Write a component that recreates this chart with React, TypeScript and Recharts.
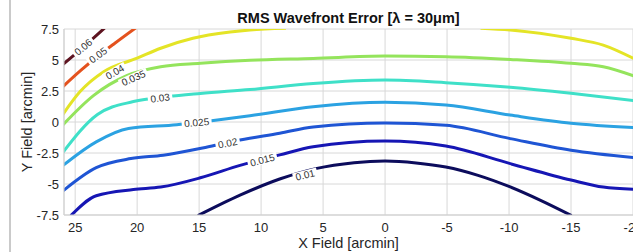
import React from 'react';
import { ComposedChart, Line, Scatter, XAxis, YAxis, CartesianGrid } from 'recharts';

// Contour levels (RMS wavefront error) and their colours
const levels = ['0.01', '0.015', '0.02', '0.025', '0.03', '0.035', '0.04', '0.04', '0.05', '0.06'];
const colors = ['#0c0c5c', '#1616b4', '#1f55d4', '#2ba2e2', '#3fe0c8', '#94e45c', '#e4e426', '#e4e426', '#e4521e', '#5e1420'];

// Contour paths: [X field, Y field] in arcmin
const c001 = [[15.1, -7.55], [11.7, -5.9], [8.5, -4.6], [5.6, -3.76], [2.5, -3.28], [0, -3.15], [-2.5, -3.3], [-4.9, -3.63], [-7.5, -4.3], [-10.1, -5.24], [-12.5, -6.3], [-15.05, -7.55]];
const c0015 = [[25.35, -7.55], [23.3, -5.95], [20.3, -5.45], [18.1, -5.25], [14.9, -4.5], [11.7, -3.5], [8.5, -2.65], [5.8, -2.0], [0, -1.53], [-4.9, -1.94], [-10.1, -3.36], [-15, -4.68], [-17.6, -5.25], [-20.1, -5.42]];
const c002 = [[26.1, -5.65], [23.3, -3.68], [20.5, -2.95], [17.9, -2.68], [14.5, -2.05], [11.7, -1.45], [8.5, -0.9], [5.8, -0.4], [0, -0.08], [-4.9, -0.27], [-10.1, -1.34], [-15, -2.28], [-20.1, -2.88]];
const c0025 = [[26.1, -3.6], [23.3, -1.6], [20.7, -0.52], [16.8, -0.22], [14, 0.1], [10.9, 0.5], [5.8, 1.23], [0, 1.59], [-4.9, 1.37], [-10.1, 0.56], [-15, -0.1], [-20.1, -0.45]];
const c003 = [[26.1, -2.6], [23.2, 0.6], [20.3, 1.65], [17.5, 2.05], [14.9, 2.3], [10.9, 2.62], [5.8, 3.1], [0, 3.38], [-4.9, 3.17], [-10.1, 2.8], [-15, 2.31], [-20.1, 1.72]];
const c0035 = [[26.1, -0.35], [23.5, 2.15], [20.8, 3.75], [18.1, 4.45], [14.9, 4.73], [10.9, 4.98], [5.8, 5.13], [0, 5.32], [-4.9, 5.27], [-10.1, 5.05], [-15, 4.73], [-17.6, 4.45], [-20.1, 3.7]];
const c004a = [[26.1, 0.45], [24.6, 2.45], [22.7, 4.05], [20.0, 5.15], [18.1, 5.95], [15.5, 6.75], [12.5, 7.25], [10.9, 7.42], [8.0, 7.56]];
const c004b = [[-7.7, 7.56], [-10.1, 7.42], [-15, 6.75], [-17.6, 6.2], [-20.1, 5.1]];
const c005 = [[26.1, 2.75], [24.5, 4.2], [23.3, 5.2], [21.8, 6.35], [20.1, 7.6]];
const c006 = [[26.1, 4.55], [24.5, 5.9], [22.6, 7.6]];

// Inline contour labels: [x, y, rotation]
const labelText = ['0.06', '0.05', '0.04', '0.035', '0.03', '0.025', '0.02', '0.015', '0.01'];
const labelPos = [[24.35, 6.05, -40], [23.15, 5.4, -36], [21.8, 4.03, -30], [20.3, 3.55, -24], [18.15, 1.94, -8], [15.2, -0.05, -5], [12.7, -1.7, -11], [9.9, -3.06, -15], [6.45, -4.27, -14]];

const xTicks = [25, 20, 15, 10, 5, 0, -5, -10, -15, -20];
const yTicks = [7.5, 5, 2.5, 0, -2.5, -5, -7.5];

const paths = [c001, c0015, c002, c0025, c003, c0035, c004a, c004b, c005, c006];
const series = paths.map((p, i) => ({
  key: `s${i}`,
  level: levels[i],
  color: colors[i],
  data: p.map(([x, y]) => ({ x, y })),
}));
const labelData = labelText.map((t, i) => ({ x: labelPos[i][0], y: labelPos[i][1], angle: labelPos[i][2], text: t }));

const FONT = '"Liberation Sans", Arial, Helvetica, sans-serif';

const LabelShape = (props: any) => {
  const { cx, cy, payload } = props;
  if (cx == null || cy == null) return null;
  const w = payload.text.length * 5.4 + 3;
  return (
    <g transform={`translate(${cx},${cy}) rotate(${payload.angle})`}>
      <rect x={-w / 2} y={-4.5} width={w} height={9} fill="#ffffff" />
      <text x={0} y={0} dy="0.36em" textAnchor="middle" fontSize={10} fill="#303030" fontFamily={FONT}>
        {payload.text}
      </text>
    </g>
  );
};

export default function App() {
  return (
    <div style={{ position: 'absolute', left: 0, top: 0, width: 633, height: 252, overflow: 'hidden', background: '#fff', fontFamily: FONT }}>
      <div style={{ position: 'absolute', left: 9, top: 0, width: 2, height: 252, background: '#cacaca' }} />
      <div style={{ position: 'absolute', left: 0, top: 11, width: 697, textAlign: 'center', fontWeight: 'bold', fontSize: 14.5, lineHeight: '14.5px', color: '#111' }}>
        RMS Wavefront Error [λ = 30μm]
      </div>
      <div style={{ position: 'absolute', left: 0, top: 0 }}>
        <ComposedChart width={700} height={252} margin={{ top: 29, right: 67, left: 14, bottom: 4 }} style={{ fontFamily: FONT }}>
          <CartesianGrid stroke="#d8d8d8" strokeWidth={1} />
          <XAxis
            type="number"
            dataKey="x"
            domain={[-20, 25.9]}
            reversed
            allowDataOverflow
            ticks={xTicks}
            interval={0}
            tickLine={false}
            tickSize={0}
            tickMargin={8}
            axisLine={{ stroke: '#cfcfcf' }}
            tick={{ fontSize: 13, fill: '#262626' }}
            height={33}
            label={{ value: 'X Field [arcmin]', position: 'insideBottom', offset: 0, fontSize: 14.5, fill: '#262626' }}
          />
          <YAxis
            type="number"
            dataKey="y"
            domain={[-7.5, 7.5]}
            allowDataOverflow
            ticks={yTicks}
            interval={0}
            tickLine={false}
            tickSize={0}
            tickMargin={5}
            axisLine={{ stroke: '#cfcfcf' }}
            tick={{ fontSize: 13, fill: '#262626' }}
            width={50}
            label={{ value: 'Y Field [arcmin]', angle: -90, position: 'insideLeft', offset: 13, fontSize: 14.5, fill: '#262626', style: { textAnchor: 'middle' } }}
          />
          {series.map((s) => (
            <Line
              key={s.key}
              data={s.data}
              dataKey="y"
              type="monotone"
              stroke={s.color}
              strokeWidth={3}
              dot={false}
              activeDot={false}
              isAnimationActive={false}
              name={s.level}
            />
          ))}
          <Scatter data={labelData} dataKey="y" shape={LabelShape} isAnimationActive={false} />
        </ComposedChart>
      </div>
    </div>
  );
}
